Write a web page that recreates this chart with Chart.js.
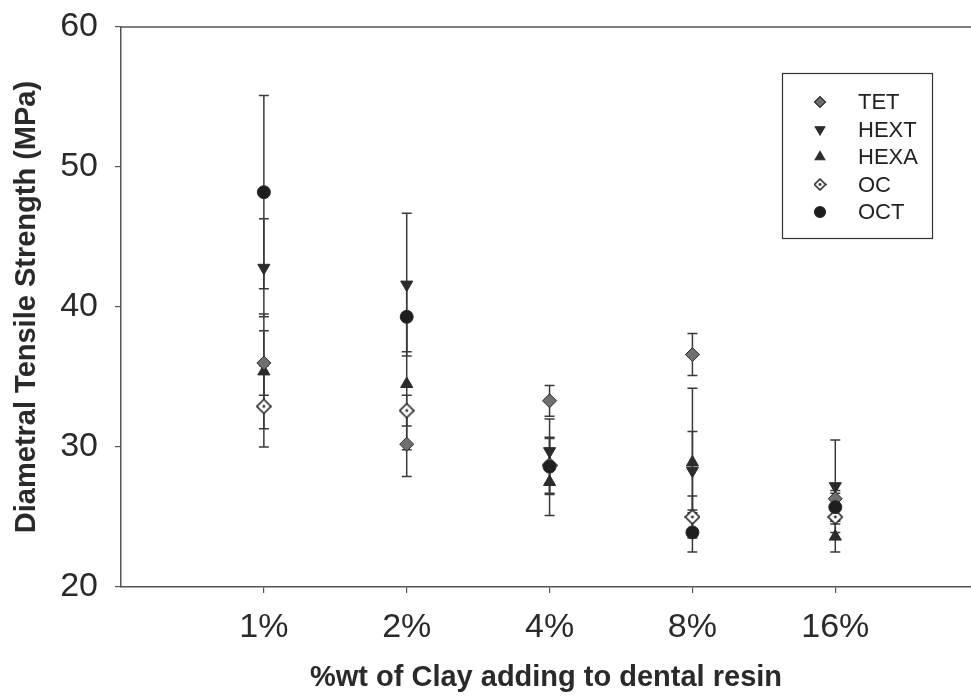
<!DOCTYPE html>
<html>
<head>
<meta charset="utf-8">
<script src="https://cdn.jsdelivr.net/npm/chart.js@4.4.0/dist/chart.umd.min.js"></script>
<style>
    html, body { margin: 0; padding: 0; background: #fff; }
    #wrap { width: 971px; height: 697px; }
</style>
</head>
<body>
<div id="wrap"><canvas id="dtsChart" width="971" height="697"></canvas></div>
<script>
// clay content (x categories)
const categories = ['1%', '2%', '4%', '8%', '16%'];

// mean values (MPa)
const tet = [36.0, 30.2, 33.3, 36.6, 26.3];
const hext = [42.8, 41.6, 29.7, 28.3, 27.2];
const hexa = [35.4, 34.5, 27.5, 28.9, 23.6];
const oc = [32.9, 32.6, 28.7, 25.0, 25.0];
const oct = [48.2, 39.3, 28.6, 23.9, 25.7];

// standard deviations (error bars)
const tetErr = [2.3, 2.3, 1.1, 1.5, 0.6];
const hextErr = [3.5, 5.1, 2.3, 2.8, 3.3];
const hexaErr = [4.1, 4.7, 2.4, 5.3, 1.1];
const ocErr = [2.9, 1.1, 2.0, 1.5, 0.5];
const octErr = [6.9, 2.5, 2.0, 1.4, 1.0];

const yTicks = [20, 30, 40, 50, 60];

const FONT = "'Liberation Sans', Arial, sans-serif";
const DARK = '#2b2b2b';

// open diamond with a dot in the middle (OC)
function makeOcMarker(size) {
    const c = document.createElement('canvas');
    c.width = size;
    c.height = size;
    const g = c.getContext('2d');
    const m = size / 2;
    g.beginPath();
    g.moveTo(m, 1);
    g.lineTo(size - 1, m);
    g.lineTo(m, size - 1);
    g.lineTo(1, m);
    g.closePath();
    g.fillStyle = '#fff';
    g.fill();
    g.lineWidth = 1.6;
    g.strokeStyle = DARK;
    g.stroke();
    g.beginPath();
    g.arc(m, m, 1.4, 0, Math.PI * 2);
    g.fillStyle = DARK;
    g.fill();
    return c;
}

function toPoints(values) {
    return values.map((v, i) => ({ x: i + 1, y: v }));
}

// no extra label padding, so the plot box sits where the figure has it
function noPadding(scale) {
    scale.paddingTop = 0;
    scale.paddingBottom = 0;
    scale.paddingLeft = 0;
    scale.paddingRight = 0;
}

// order: lower number is painted on top (OCT covers OC at 4%)
const series = [
    { label: 'TET', data: tet, err: tetErr, pointStyle: 'rectRot', rotation: 0, radius: 7, bg: '#6f6f6f', legendStyle: 'rectRot', order: 1 },
    { label: 'HEXT', data: hext, err: hextErr, pointStyle: 'triangle', rotation: 180, radius: 7, bg: DARK, legendStyle: 'triangle', order: 1 },
    { label: 'HEXA', data: hexa, err: hexaErr, pointStyle: 'triangle', rotation: 0, radius: 7, bg: DARK, legendStyle: 'triangle', order: 1 },
    { label: 'OC', data: oc, err: ocErr, pointStyle: makeOcMarker(16), rotation: 0, radius: 7, bg: '#fff', legendStyle: makeOcMarker(13), order: 2 },
    { label: 'OCT', data: oct, err: octErr, pointStyle: 'circle', rotation: 0, radius: 6.5, bg: '#1e1e1e', legendStyle: 'circle', order: 0 }
];

// vertical error bars with caps, drawn under the markers
const errorBars = {
    id: 'errorBars',
    beforeDatasetsDraw(chart) {
        const ctx = chart.ctx;
        const xs = chart.scales.x;
        const ys = chart.scales.y;
        ctx.save();
        ctx.strokeStyle = '#3a3a3a';
        ctx.lineWidth = 1.5;
        series.forEach(s => {
            s.data.forEach((v, i) => {
                const x = xs.getPixelForValue(i + 1);
                const hi = ys.getPixelForValue(v + s.err[i]);
                const lo = ys.getPixelForValue(v - s.err[i]);
                ctx.beginPath();
                ctx.moveTo(x, hi);
                ctx.lineTo(x, lo);
                ctx.moveTo(x - 5, hi);
                ctx.lineTo(x + 5, hi);
                ctx.moveTo(x - 5, lo);
                ctx.lineTo(x + 5, lo);
                ctx.stroke();
            });
        });
        ctx.restore();
    }
};

// top frame line + boxed legend inside the plot
const frameAndLegend = {
    id: 'frameAndLegend',
    afterDraw(chart) {
        const ctx = chart.ctx;
        const area = chart.chartArea;
        ctx.save();
        ctx.strokeStyle = '#555';
        ctx.lineWidth = 1.5;
        ctx.beginPath();
        ctx.moveTo(area.left, area.top);
        ctx.lineTo(area.right, area.top);
        ctx.stroke();

        ctx.strokeStyle = '#333';
        ctx.lineWidth = 1.2;
        ctx.strokeRect(782.5, 73.5, 150, 165);

        ctx.font = '22px ' + FONT;
        ctx.textBaseline = 'middle';
        series.forEach((s, i) => {
            const y = 102 + i * 27.5;
            ctx.fillStyle = s.bg;
            ctx.strokeStyle = DARK;
            Chart.helpers.drawPoint(ctx, {
                pointStyle: s.legendStyle,
                rotation: s.rotation,
                radius: 5.5,
                borderWidth: 1
            }, 820, y);
            ctx.fillStyle = '#222';
            ctx.fillText(s.label, 858, y + 1);
        });
        ctx.restore();
    }
};

const ctx = document.getElementById('dtsChart').getContext('2d');
const dtsChart = new Chart(ctx, {
    type: 'scatter',
    data: {
        datasets: series.map(s => ({
            label: s.label,
            data: toPoints(s.data),
            order: s.order,
            pointStyle: s.pointStyle,
            rotation: s.rotation,
            pointRadius: s.radius,
            pointHoverRadius: s.radius,
            pointBackgroundColor: s.bg,
            pointBorderColor: DARK,
            pointBorderWidth: 1
        }))
    },
    options: {
        responsive: false,
        animation: false,
        layout: { autoPadding: false, padding: { top: 27, right: 0, left: 0, bottom: 0 } },
        plugins: {
            legend: { display: false },
            tooltip: { enabled: false }
        },
        scales: {
            x: {
                type: 'linear',
                min: 0,
                max: 5.95,
                afterBuildTicks: scale => {
                    scale.ticks = categories.map((c, i) => ({ value: i + 1 }));
                },
                afterFit: scale => {
                    scale.height = 110;
                    noPadding(scale);
                },
                ticks: {
                    callback: v => categories[v - 1],
                    font: { family: FONT, size: 34 },
                    color: '#2a2a2a',
                    padding: 14,
                    maxRotation: 0,
                    autoSkip: false
                },
                grid: { display: true, drawOnChartArea: false, tickLength: 6, color: '#555', lineWidth: 1.2 },
                border: { display: true, color: '#555', width: 1.5 },
                title: {
                    display: true,
                    text: '%wt of Clay adding to dental resin',
                    font: { family: FONT, size: 29, weight: 'bold' },
                    color: '#2a2a2a',
                    padding: { top: 0, bottom: 2 }
                }
            },
            y: {
                min: 20,
                max: 60,
                afterBuildTicks: scale => {
                    scale.ticks = yTicks.map(v => ({ value: v }));
                },
                afterFit: scale => {
                    scale.width = 121;
                    noPadding(scale);
                },
                ticks: {
                    font: { family: FONT, size: 34 },
                    color: '#2a2a2a',
                    padding: 17
                },
                grid: { display: true, drawOnChartArea: false, tickLength: 6, color: '#555', lineWidth: 1.2 },
                border: { display: true, color: '#555', width: 1.5 },
                title: {
                    display: true,
                    text: 'Diametral Tensile Strength (MPa)',
                    font: { family: FONT, size: 29, weight: 'bold' },
                    color: '#2a2a2a',
                    padding: { top: 10, bottom: 0 }
                }
            }
        }
    },
    plugins: [errorBars, frameAndLegend]
});
</script>
</body>
</html>
